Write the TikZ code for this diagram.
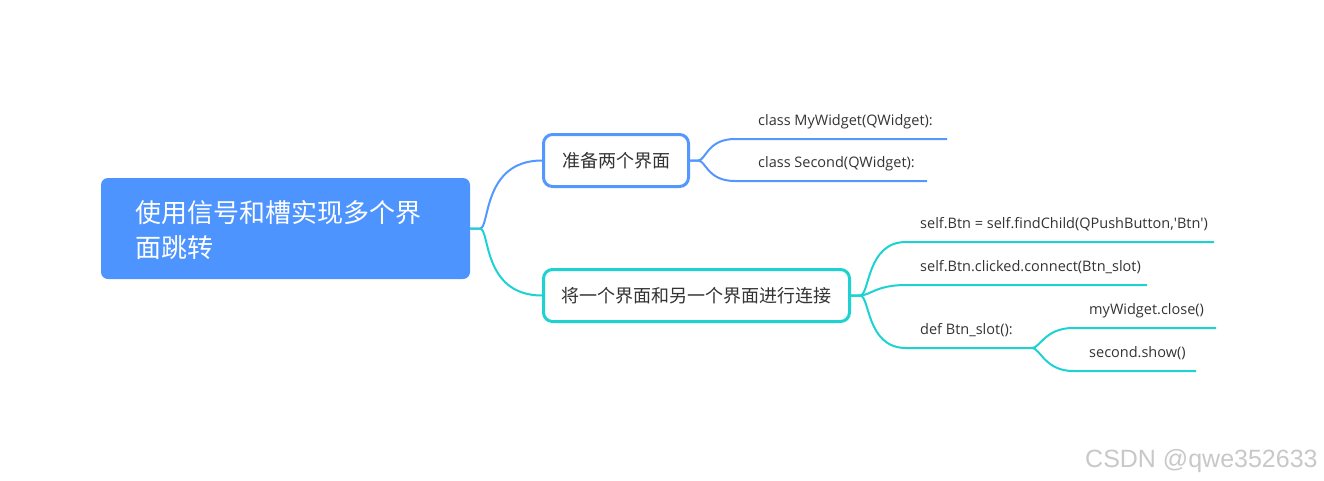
\documentclass[tikz,border=0pt]{standalone}
\usepackage{fontspec}
\setmainfont{Noto Sans CJK SC}
\newfontfamily\wmfont{Liberation Sans}
\newfontfamily\codefont{Open Sans}
\definecolor{rootblue}{RGB}{77,148,255}
\definecolor{bline}{RGB}{82,152,255}
\definecolor{tline}{RGB}{30,210,210}
\definecolor{txt}{RGB}{51,51,51}
\definecolor{wm}{RGB}{200,200,200}
\begin{document}
\begin{tikzpicture}[x=1pt,y=-1pt,
  rootbox/.style={rectangle, rounded corners=7pt, fill=rootblue, minimum width=369pt, minimum height=101pt, inner sep=0pt},
  roottext/.style={anchor=west, inner sep=0pt, text=white, font=\fontsize{26}{35}\selectfont, align=left},
  topic/.style={rectangle, rounded corners=9pt, line width=3pt, fill=white, minimum height=52pt, inner sep=0pt, text=txt, font=\fontsize{18}{22}\selectfont},
  leaf/.style={anchor=base west, inner sep=0pt, text=txt, font=\codefont\fontsize{14.5}{18}\selectfont},
  conn/.style={line width=2pt}
]
\useasboundingbox (0,0) rectangle (1324,480);

% root
\node[rootbox] (root) at (285.5,228.5) {};
\node[roottext] (roottxt) at (135,230) {使用信号和槽实现多个界\\面跳转};

% topics
\node[topic, draw=bline, minimum width=145pt] (n1) at (616,160.5) {准备两个界面};
\node[topic, draw=tline, minimum width=306pt] (n2) at (696.5,295.5) {将一个界面和另一个界面进行连接};

% coordinates
\coordinate (r0) at (480,228.5);
\coordinate (s1) at (698,160.5);
\coordinate (s2) at (860,295.5);
\coordinate (l1s) at (735,139);  \coordinate (l1e) at (947,139);
\coordinate (l2s) at (735,181);  \coordinate (l2e) at (927,181);
\coordinate (m1s) at (906,242);  \coordinate (m1e) at (1214,242);
\coordinate (m2s) at (906,285);  \coordinate (m2e) at (1147,285);
\coordinate (m3s) at (906,348);  \coordinate (m3e) at (1032,348);
\coordinate (d1s) at (1073,328); \coordinate (d1e) at (1216,328);
\coordinate (d2s) at (1073,371); \coordinate (d2e) at (1196,371);

% leaf texts
\node[leaf] (l1) at (758,125.5) {class MyWidget(QWidget):};
\node[leaf] (l2) at (758,167.5) {class Second(QWidget):};
\node[leaf] (m1) at (920,228.5) {self.Btn = self.findChild(QPushButton,{\char"27}Btn{\char"27})};
\node[leaf] (m2) at (920,271.5) {self.Btn.clicked.connect(Btn\_slot)};
\node[leaf] (m3) at (920,334.5) {def Btn\_slot():};
\node[leaf] (d1) at (1089,314.5) {myWidget.close()};
\node[leaf] (d2) at (1089,357.5) {second.show()};

% connectors root
\draw[conn, bline] (root.east) -- (r0) .. controls +(10,0) and +(-60,0) .. (n1.west);
\draw[conn, tline] (root.east) -- (r0) .. controls +(10,0) and +(-60,0) .. (n2.west);

% n1 branches
\draw[conn, bline] (n1.east) -- (s1) .. controls +(8,0) and +(-28,0) .. (l1s) -- (l1e);
\draw[conn, bline] (n1.east) -- (s1) .. controls +(8,0) and +(-28,0) .. (l2s) -- (l2e);

% n2 branches
\draw[conn, tline] (n2.east) -- (s2) .. controls +(10,0) and +(-40,0) .. (m1s) -- (m1e);
\draw[conn, tline] (n2.east) -- (s2) .. controls +(10,0) and +(-30,0) .. (m2s) -- (m2e);
\draw[conn, tline] (n2.east) -- (s2) .. controls +(10,0) and +(-40,0) .. (m3s) -- (m3e);

% def branches
\draw[conn, tline] (m3e) .. controls +(8,0) and +(-28,0) .. (d1s) -- (d1e);
\draw[conn, tline] (m3e) .. controls +(8,0) and +(-28,0) .. (d2s) -- (d2e);

% watermark
\node[anchor=base west, inner sep=0pt, text=wm, font=\wmfont\fontsize{25}{30}\selectfont] (wmk) at (1085,467) {CSDN @qwe352633};
\end{tikzpicture}
\end{document}
